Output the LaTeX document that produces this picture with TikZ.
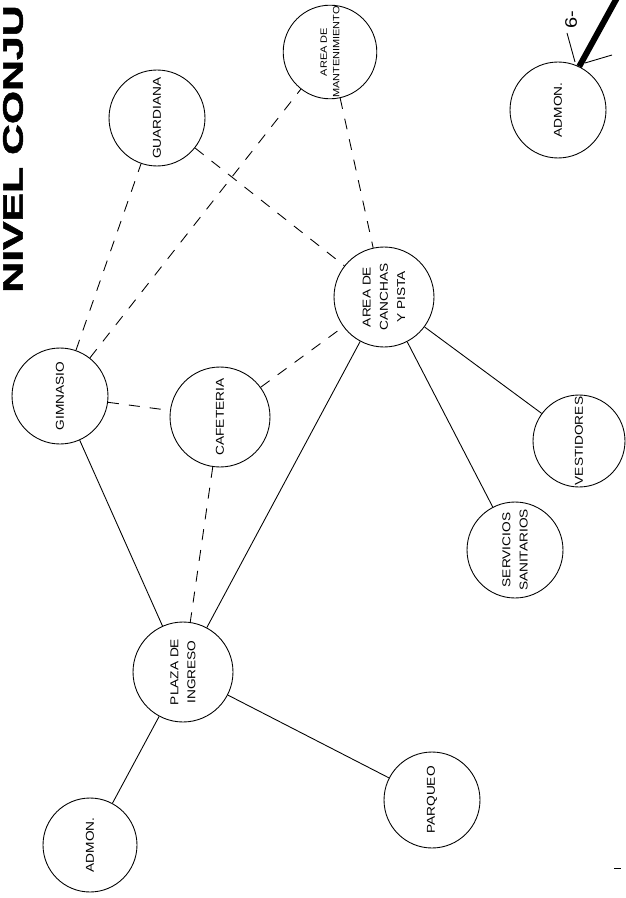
\documentclass[tikz,border=0pt]{standalone}
\usepackage{fontspec}
\newfontfamily\cadfont[FakeStretch=1.2]{Liberation Sans}
\newfontfamily\titlefont[FakeStretch=1.52,FakeBold=2]{Liberation Sans Bold}

\begin{document}
\begin{tikzpicture}[x=0.02cm,y=-0.02cm,
  space/.style={circle,draw,line width=0.5pt,minimum size=1.92cm,inner sep=0pt,
    font=\cadfont\fontsize{6.5}{9.8}\selectfont,align=center,rotate=90},
  bigspace/.style={space,minimum size=2cm},
  link/.style={line width=0.5pt},
  dashlink/.style={line width=0.5pt,dash pattern=on 0.22cm off 0.2cm}]
  \useasboundingbox (0,0) rectangle (625,898);

  % Draw the title
  \node[font=\titlefont\fontsize{16}{16}\selectfont,rotate=90,anchor=west,inner sep=0pt]
    (title) at (13,293) {NIVEL CONJU};

  % Draw the spaces
  \node[space,minimum size=1.84cm,font=\cadfont\fontsize{5.2}{7}\selectfont] (mant) at (330,52) {AREA DE\\MANTENIMIENTO};
  \node[space] (guard) at (157,118) {GUARDIANA};
  \node[space] (admonA) at (558,110) {ADMON.};
  \node[bigspace] (canchas) at (384,297) {AREA DE\\CANCHAS\\Y PISTA};
  \node[space] (gim) at (60,396) {GIMNASIO};
  \node[bigspace] (cafe) at (220,417) {CAFETERIA};
  \node[space] (serv) at (515,550) {SERVICIOS\\SANITARIOS};
  \node[space,minimum size=1.84cm] (vest) at (579,441) {VESTIDORES};
  \node[bigspace] (plaza) at (183,672) {PLAZA DE\\INGRESO};
  \node[space,minimum size=1.88cm] (admonB) at (90,845) {ADMON.};
  \node[space] (parq) at (432,800) {PARQUEO};

  % Draw the direct links
  \draw[link] (gim) -- (plaza);
  \draw[link] (plaza) -- (canchas);
  \draw[link] (plaza) -- (admonB);
  \draw[link] (plaza) -- (parq);
  \draw[link] (canchas) -- (serv);
  \draw[link] (canchas) -- (vest);

  % Draw the indirect links
  \draw[dashlink] (gim) -- (guard);
  \draw[dashlink] (gim) -- (mant);
  \draw[dashlink] (gim) -- (cafe);
  \draw[dashlink] (cafe) -- (canchas);
  \draw[dashlink] (cafe) -- (plaza);
  \draw[dashlink] (guard) -- (canchas);
  \draw[dashlink] (mant) -- (canchas);

  % Draw the leader at the top
  \coordinate (tip) at (618,-4);
  \coordinate (tickA) at (567,33);
  \coordinate (tickB) at (575,62);
  \coordinate (tickC) at (585,63);
  \coordinate (tickD) at (612,55);
  \draw[line width=3.4pt] (admonA.-26) -- (tip);
  \draw[link] (tickA) -- (tickB);
  \draw[link] (tickC) -- (tickD);
  \node[font=\cadfont\fontsize{9.5}{10}\selectfont,rotate=90,inner sep=0pt] (sheet) at (571,20) {6-};

  % Draw the mark at the bottom
  \coordinate (markA) at (614,868);
  \coordinate (markB) at (621,868);
  \draw[link] (markA) -- (markB);
\end{tikzpicture}
\end{document}
